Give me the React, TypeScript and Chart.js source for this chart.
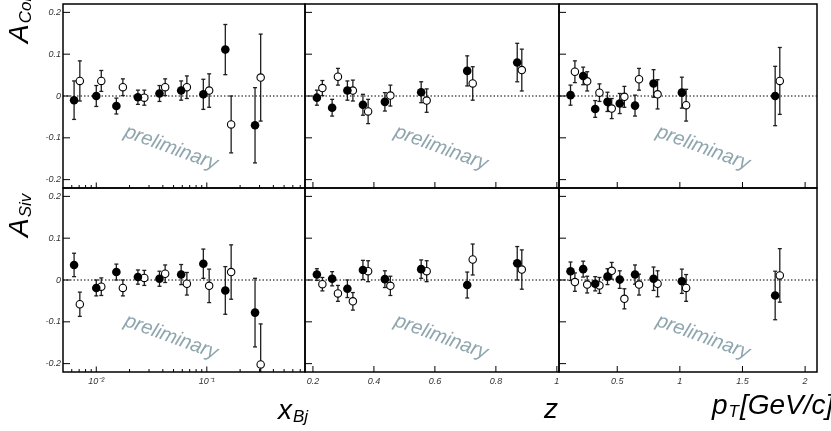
import { Chart, registerables } from 'chart.js';
import { useEffect, useRef } from 'react';

Chart.register(...registerables);

const FONT = '"Liberation Sans", Arial, sans-serif';

// x positions: filled = positive hadrons, open = negative hadrons
const xbjFilled = [0.0063, 0.0100, 0.0152, 0.0238, 0.0373, 0.0586, 0.093, 0.147, 0.273];
const xbjOpen = [0.0071, 0.0111, 0.0174, 0.0272, 0.042, 0.066, 0.105, 0.166, 0.307];
const zFilled = [0.213, 0.263, 0.313, 0.364, 0.436, 0.555, 0.706, 0.870];
const zOpen = [0.231, 0.282, 0.331, 0.381, 0.454, 0.573, 0.724, 0.885];
const ptFilled = [0.127, 0.228, 0.324, 0.422, 0.52, 0.642, 0.790, 1.016, 1.761];
const ptOpen = [0.162, 0.260, 0.358, 0.456, 0.557, 0.674, 0.822, 1.050, 1.798];

// Collins asymmetry
const collXbjFilled = [-0.010, 0.000, -0.024, -0.003, 0.006, 0.013, 0.004, 0.111, -0.070];
const collXbjFilledErr = [0.046, 0.025, 0.019, 0.017, 0.019, 0.023, 0.036, 0.060, 0.090];
const collXbjOpen = [0.036, 0.036, 0.021, -0.004, 0.021, 0.021, 0.013, -0.068, 0.044];
const collXbjOpenErr = [0.048, 0.025, 0.020, 0.018, 0.020, 0.027, 0.040, 0.068, 0.104];
const collZFilled = [-0.004, -0.028, 0.013, -0.021, -0.014, 0.009, 0.060, 0.080];
const collZFilledErr = [0.018, 0.020, 0.023, 0.025, 0.022, 0.025, 0.036, 0.046];
const collZOpen = [0.019, 0.046, 0.013, -0.037, 0.001, -0.011, 0.030, 0.062];
const collZOpenErr = [0.018, 0.020, 0.025, 0.029, 0.025, 0.028, 0.040, 0.050];
const collPtFilled = [0.002, 0.048, -0.031, -0.014, -0.018, -0.023, 0.030, 0.008, 0.000];
const collPtFilledErr = [0.024, 0.021, 0.020, 0.023, 0.024, 0.025, 0.033, 0.037, 0.071];
const collPtOpen = [0.058, 0.035, 0.008, -0.030, -0.002, 0.040, 0.004, -0.022, 0.036];
const collPtOpenErr = [0.026, 0.023, 0.021, 0.024, 0.025, 0.026, 0.035, 0.038, 0.080];

// Sivers asymmetry
const sivXbjFilled = [0.036, -0.019, 0.019, 0.007, 0.003, 0.013, 0.039, -0.025, -0.078];
const sivXbjFilledErr = [0.028, 0.019, 0.019, 0.017, 0.018, 0.024, 0.035, 0.057, 0.082];
const sivXbjOpen = [-0.058, -0.016, -0.019, 0.005, 0.015, -0.009, -0.014, 0.019, -0.202];
const sivXbjOpenErr = [0.029, 0.021, 0.019, 0.018, 0.021, 0.027, 0.040, 0.065, 0.097];
const sivZFilled = [0.013, 0.003, -0.021, 0.024, 0.002, 0.026, -0.012, 0.040];
const sivZFilledErr = [0.014, 0.017, 0.021, 0.023, 0.020, 0.022, 0.031, 0.040];
const sivZOpen = [-0.010, -0.032, -0.051, 0.021, -0.014, 0.021, 0.049, 0.025];
const sivZOpenErr = [0.016, 0.019, 0.021, 0.025, 0.023, 0.025, 0.037, 0.047];
const sivPtFilled = [0.021, 0.026, -0.009, 0.008, 0.001, 0.013, 0.003, -0.003, -0.037];
const sivPtFilledErr = [0.022, 0.019, 0.017, 0.019, 0.021, 0.023, 0.028, 0.029, 0.058];
const sivPtOpen = [-0.005, -0.011, -0.013, 0.022, -0.045, -0.011, -0.009, -0.019, 0.011];
const sivPtOpenErr = [0.022, 0.020, 0.019, 0.020, 0.024, 0.025, 0.031, 0.032, 0.064];

// ticks
const yTicks = [-0.2, -0.1, 0, 0.1, 0.2];
const xbjTicks = [0.01, 0.1];
const xbjTickLabels = ['10⁻²', '10⁻¹'];
const zTicks = [0.2, 0.4, 0.6, 0.8, 1];
const ptTicks = [0.5, 1, 1.5, 2];

const X_IDS = ['xBj', 'xZ', 'xPt'];
const Y_IDS = ['yColl', 'ySiv'];
const PRELIM_DX = [108, 136, 144];
const PRELIM_DY = [144, 149];

function series(xs: number[], ys: number[], errs: number[], xAxisID: string, yAxisID: string, open: boolean) {
  return {
    type: 'scatter',
    data: xs.map((x, i) => ({ x, y: ys[i] })),
    errors: errs,
    xAxisID,
    yAxisID,
    pointRadius: open ? 3.7 : 4.3,
    pointBackgroundColor: open ? '#fff' : '#000',
    pointBorderColor: '#000',
    pointBorderWidth: open ? 1.1 : 0,
    showLine: false,
    clip: 0,
  };
}

function line(ctx: CanvasRenderingContext2D, x1: number, y1: number, x2: number, y2: number) {
  ctx.beginPath();
  ctx.moveTo(x1, y1);
  ctx.lineTo(x2, y2);
  ctx.stroke();
}

function drawTitle(ctx: CanvasRenderingContext2D, main: string, sub: string, rest: string, x: number, y: number, vertical: boolean) {
  ctx.save();
  ctx.translate(x, y);
  if (vertical) ctx.rotate(-Math.PI / 2);
  ctx.fillStyle = '#000';
  ctx.textAlign = 'left';
  ctx.textBaseline = 'alphabetic';
  ctx.font = `italic 28px ${FONT}`;
  ctx.fillText(main, 0, 0);
  let w = ctx.measureText(main).width + 1;
  ctx.font = `italic 17px ${FONT}`;
  ctx.fillText(sub, w, 3);
  w += ctx.measureText(sub).width + 1;
  if (rest) {
    ctx.font = `italic 28px ${FONT}`;
    ctx.fillText(rest, w, 0);
  }
  ctx.restore();
}

const panelsPlugin = {
  id: 'panels',
  beforeDatasetsDraw(chart: any) {
    const ctx: CanvasRenderingContext2D = chart.ctx;
    const xs = X_IDS.map((id) => chart.scales[id]);
    const ys = Y_IDS.map((id) => chart.scales[id]);
    ctx.save();

    // watermark
    ctx.fillStyle = '#8fa6ae';
    ctx.font = `italic 20px ${FONT}`;
    ctx.textAlign = 'center';
    ctx.textBaseline = 'middle';
    ys.forEach((sy, r) => {
      xs.forEach((sx, c) => {
        ctx.save();
        ctx.translate(sx.left + PRELIM_DX[c], sy.top + PRELIM_DY[r]);
        ctx.rotate((20 * Math.PI) / 180);
        ctx.fillText('preliminary', 0, 0);
        ctx.restore();
      });
    });

    // dotted zero lines
    ctx.strokeStyle = '#000';
    ctx.lineWidth = 1;
    ctx.setLineDash([1.5, 2]);
    ys.forEach((sy) => {
      const p = sy.getPixelForValue(0);
      line(ctx, xs[0].left, p, xs[2].right, p);
    });
    ctx.setLineDash([]);

    // error bars
    chart.data.datasets.forEach((ds: any) => {
      const sx = chart.scales[ds.xAxisID];
      const sy = chart.scales[ds.yAxisID];
      ctx.save();
      ctx.beginPath();
      ctx.rect(sx.left, sy.top, sx.right - sx.left, sy.bottom - sy.top);
      ctx.clip();
      ctx.strokeStyle = '#1e1e1e';
      ctx.lineWidth = 1.3;
      ds.data.forEach((pt: any, j: number) => {
        const e = ds.errors[j];
        const px = sx.getPixelForValue(pt.x);
        const top = sy.getPixelForValue(pt.y + e);
        const bot = sy.getPixelForValue(pt.y - e);
        line(ctx, px, top, px, bot);
        line(ctx, px - 2, top, px + 2, top);
        line(ctx, px - 2, bot, px + 2, bot);
      });
      ctx.restore();
    });
    ctx.restore();
  },
  afterDatasetsDraw(chart: any) {
    const ctx: CanvasRenderingContext2D = chart.ctx;
    const xs = X_IDS.map((id) => chart.scales[id]);
    const ys = Y_IDS.map((id) => chart.scales[id]);
    ctx.save();
    ctx.strokeStyle = '#000';
    ctx.lineWidth = 1;
    ys.forEach((sy) => {
      xs.forEach((sx, c) => {
        yTicks.forEach((v) => {
          const p = sy.getPixelForValue(v);
          line(ctx, sx.left, p, sx.left + 7, p);
        });
        const b = sy.bottom;
        if (c === 0) {
          for (let e = -3; e <= -1; e++) {
            for (let k = 2; k <= 9; k++) {
              const v = k * Math.pow(10, e);
              if (v <= sx.min || v >= sx.max) continue;
              const p = sx.getPixelForValue(v);
              line(ctx, p, b, p, b - 3);
            }
          }
          xbjTicks.forEach((v) => {
            const p = sx.getPixelForValue(v);
            line(ctx, p, b, p, b - 5.5);
          });
        } else {
          (c === 1 ? zTicks : ptTicks).forEach((v) => {
            const p = sx.getPixelForValue(v);
            line(ctx, p, b, p, b - 6);
          });
        }
      });
    });
    ctx.lineWidth = 1.5;
    ys.forEach((sy) => {
      xs.forEach((sx) => {
        ctx.strokeRect(sx.left, sy.top, sx.right - sx.left, sy.bottom - sy.top);
      });
    });
    ctx.restore();
  },
  afterDraw(chart: any) {
    const ctx: CanvasRenderingContext2D = chart.ctx;
    drawTitle(ctx, 'A', 'Coll', '', 28, 43, true);
    drawTitle(ctx, 'A', 'Siv', '', 28, 237, true);
    drawTitle(ctx, 'x', 'Bj', '', 278, 419, false);
    drawTitle(ctx, 'z', '', '', 544, 418, false);
    drawTitle(ctx, 'p', 'T', '[GeV/c]', 712, 414, false);
  },
};

const tickFont = { family: FONT, size: 9, style: 'italic' as const };

function noPad(s: any) {
  s.paddingTop = 0;
  s.paddingBottom = 0;
  s.paddingLeft = 0;
  s.paddingRight = 0;
}

function yScale() {
  return {
    type: 'linear',
    position: 'left',
    stack: 'rows',
    min: -0.22,
    max: 0.22,
    grid: { display: false, drawTicks: false },
    border: { display: false },
    ticks: { font: tickFont, color: '#333', padding: 2, autoSkip: false, callback: (v: number) => String(v) },
    afterBuildTicks: (s: any) => {
      s.ticks = yTicks.map((value) => ({ value }));
    },
    afterFit: (s: any) => {
      s.width = 63;
      noPad(s);
    },
  };
}

function xScale(type: string, weight: number, min: number, max: number, ticks: number[], labels: string[]) {
  return {
    type,
    position: 'bottom',
    stack: 'cols',
    stackWeight: weight,
    min,
    max,
    grid: { display: false, drawTicks: false },
    border: { display: false },
    ticks: {
      font: tickFont,
      color: '#333',
      padding: 4,
      autoSkip: false,
      maxRotation: 0,
      minRotation: 0,
      callback: (v: number) => labels[ticks.indexOf(v)] ?? '',
    },
    afterBuildTicks: (s: any) => {
      s.ticks = ticks.map((value) => ({ value }));
    },
    afterFit: (s: any) => {
      s.height = 59;
      noPad(s);
    },
  };
}

const App: React.FC = () => {
  const ref = useRef<HTMLCanvasElement>(null);
  const chartInstance = useRef<Chart | null>(null);

  useEffect(() => {
    if (!ref.current) return;
    if (chartInstance.current) chartInstance.current.destroy();

    chartInstance.current = new Chart(ref.current, {
      type: 'scatter',
      data: {
        datasets: [
          series(xbjFilled, collXbjFilled, collXbjFilledErr, 'xBj', 'yColl', false),
          series(xbjOpen, collXbjOpen, collXbjOpenErr, 'xBj', 'yColl', true),
          series(zFilled, collZFilled, collZFilledErr, 'xZ', 'yColl', false),
          series(zOpen, collZOpen, collZOpenErr, 'xZ', 'yColl', true),
          series(ptFilled, collPtFilled, collPtFilledErr, 'xPt', 'yColl', false),
          series(ptOpen, collPtOpen, collPtOpenErr, 'xPt', 'yColl', true),
          series(xbjFilled, sivXbjFilled, sivXbjFilledErr, 'xBj', 'ySiv', false),
          series(xbjOpen, sivXbjOpen, sivXbjOpenErr, 'xBj', 'ySiv', true),
          series(zFilled, sivZFilled, sivZFilledErr, 'xZ', 'ySiv', false),
          series(zOpen, sivZOpen, sivZOpenErr, 'xZ', 'ySiv', true),
          series(ptFilled, sivPtFilled, sivPtFilledErr, 'xPt', 'ySiv', false),
          series(ptOpen, sivPtOpen, sivPtOpenErr, 'xPt', 'ySiv', true),
        ] as any,
      },
      options: {
        responsive: false,
        animation: false,
        events: [],
        layout: { autoPadding: false, padding: { left: 0, right: 14, top: 4, bottom: 0 } },
        plugins: { legend: { display: false }, tooltip: { enabled: false } },
        scales: {
          xBj: xScale('logarithmic', 242, 0.005, 0.773, xbjTicks, xbjTickLabels),
          xZ: xScale('linear', 254, 0.174, 1.007, zTicks, zTicks.map(String)),
          xPt: xScale('linear', 258, 0.035, 2.095, ptTicks, ptTicks.map(String)),
          ySiv: yScale(),
          yColl: yScale(),
        } as any,
      },
      plugins: [panelsPlugin],
    });

    return () => {
      if (chartInstance.current) {
        chartInstance.current.destroy();
        chartInstance.current = null;
      }
    };
  }, []);

  return (
    <div style={{ position: 'absolute', left: 0, top: 0, width: 831, height: 431, background: '#fff' }}>
      <canvas ref={ref} width={831} height={431} style={{ display: 'block' }} />
    </div>
  );
};

export default App;
